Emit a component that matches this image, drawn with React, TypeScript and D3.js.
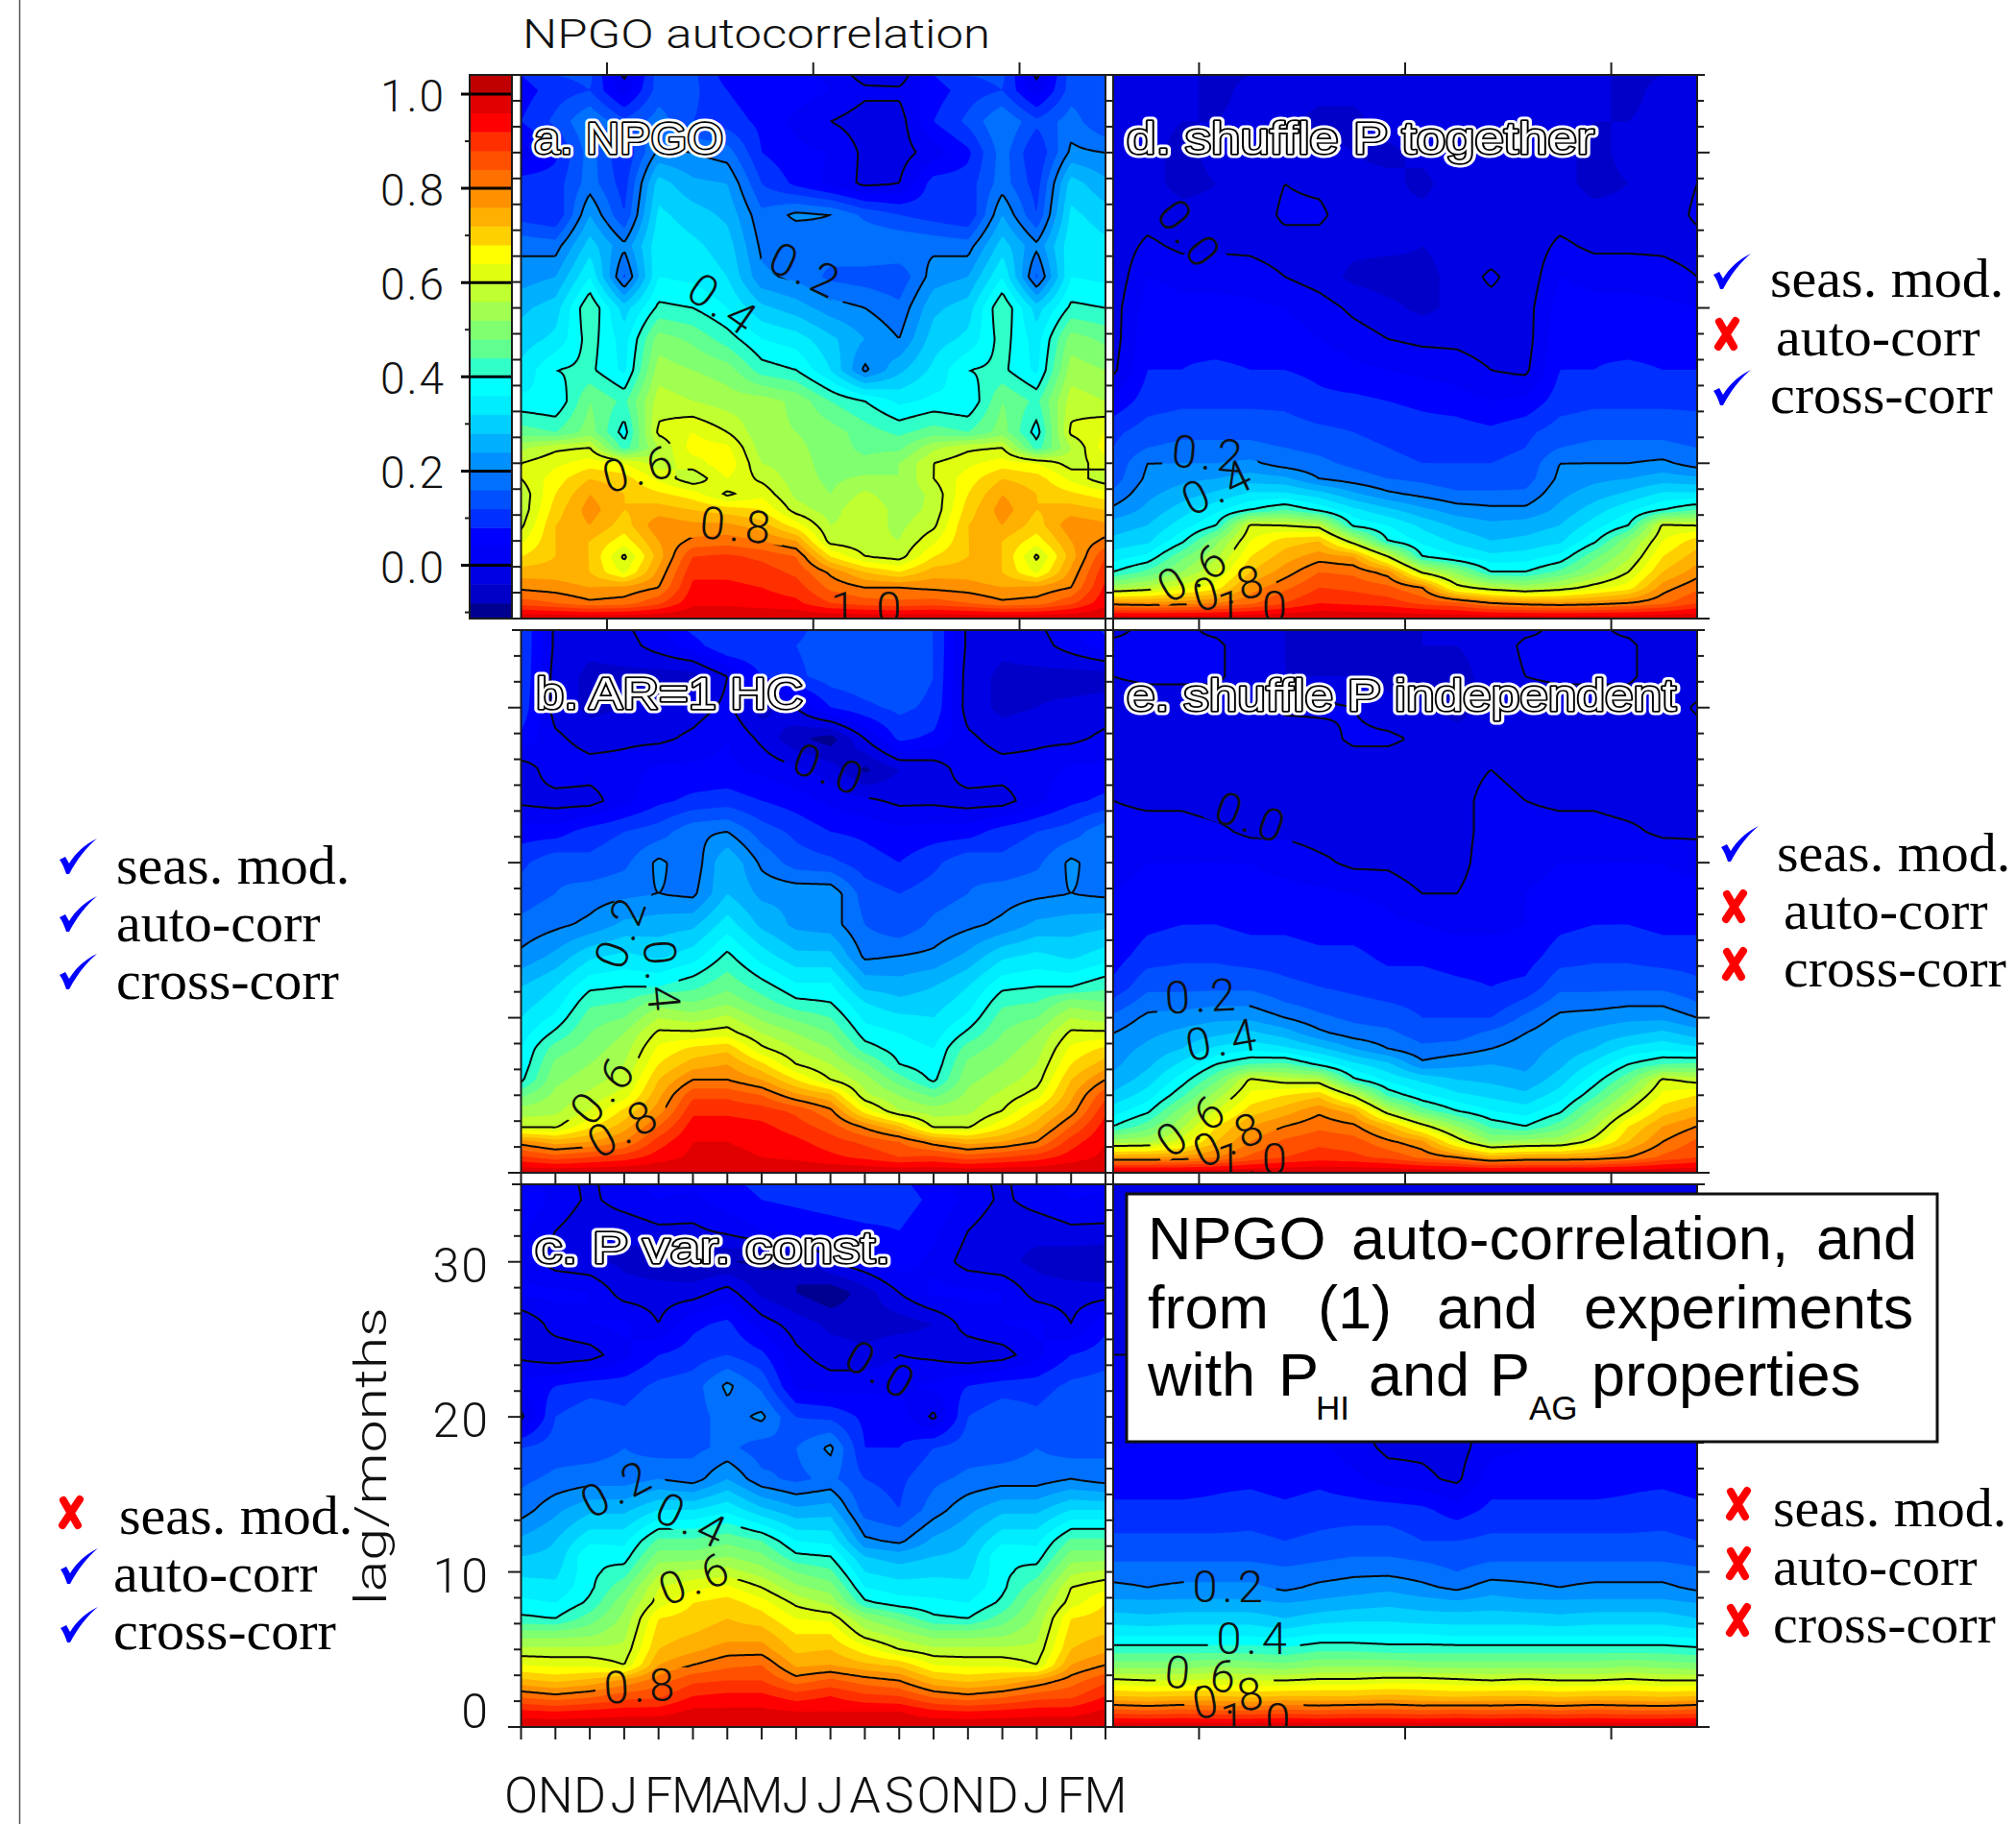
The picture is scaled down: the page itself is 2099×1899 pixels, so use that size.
import { useMemo } from "react";
import * as d3 from "d3";

// lags (rows) and months (columns, the 12-month cycle wraps across the 18 ticks)
const LAGS = [0, 1, 2, 3, 4, 5, 6, 7, 8, 9, 10, 11, 12, 14, 16, 18, 20, 22, 24, 26, 28, 30, 32, 34, 35];
const MONTHS = ["O", "N", "D", "J", "F", "M", "A", "M", "J", "J", "A", "S", "O", "N", "D", "J", "F", "M"];
const LAG_TICKS = [0, 10, 20, 30];
const BAR_TICKS = [0, 0.2, 0.4, 0.6, 0.8, 1];
const BAR_MINOR = [-0.1, 0.1, 0.3, 0.5, 0.7, 0.9];
const LINE_LEVELS = [0, 20, 40, 60, 80];

// correlation x 100, one row per lag, columns O N D J F M A M J J A S
const gridA = [
  [100, 100, 100, 100, 100, 100, 100, 100, 100, 100, 100, 100],
  [86, 84, 81, 82, 87, 95, 95, 94, 93, 88, 86, 85],
  [79, 78, 76, 77, 80, 93, 93, 92, 90, 83, 80, 80],
  [74, 74, 72, 63, 77, 91, 91, 90, 87, 79, 72, 68],
  [68, 72, 72, 59, 74, 88, 89, 87, 84, 68, 60, 58],
  [63, 72, 72, 66, 76, 81, 82, 80, 76, 58, 57, 56],
  [59, 72, 76, 70, 79, 77, 77, 74, 66, 56, 58, 55],
  [57, 70, 78, 72, 74, 72, 70, 68, 58, 54, 60, 54],
  [57, 68, 76, 72, 69, 66, 59, 63, 55, 52, 57, 53],
  [60, 66, 72, 70, 63, 57, 64, 59, 54, 51, 53, 52],
  [60, 63, 66, 64, 58, 62, 67, 56, 54, 50, 49, 52],
  [55, 59, 60, 42, 56, 66, 65, 54, 53, 50, 47, 47],
  [46, 44, 50, 38, 61, 64, 60, 53, 52, 50, 46, 43],
  [37, 36, 48, 43, 58, 56, 54, 54, 51, 44, 40, 35],
  [33, 40, 41, 35, 54, 52, 50, 42, 40, 32, 19, 27],
  [30, 33, 42, 34, 50, 47, 42, 36, 34, 29, 24, 20],
  [27, 30, 44, 30, 41, 40, 36, 29, 26, 22, 20, 17],
  [22, 24, 36, 15, 36, 35, 32, 21, 19, 15, 14, 13],
  [19, 18, 30, 21, 35, 33, 30, 19, 16, 18, 20, 20],
  [10, 8, 24, 12, 33, 30, 27, 17, 21, 20, 15, 12],
  [10, 10, 18, 10, 30, 25, 24, 12, 7, 3, -1, 0],
  [2, 7, 18, 8, 21, 20, 18, 8, 5, 4, -1, -2],
  [8, 13, 20, 13, 18, 12, 10, 7, 3, 0, -2, -2],
  [6, 10, 12, 2, 14, 13, 8, 5, 6, 4, 1, 1],
  [8, 12, 13, -1, 14, 13, 6, 4, 6, 3, -2, -3],
];
const gridB = [
  [100, 100, 100, 100, 100, 100, 100, 100, 100, 100, 100, 100],
  [89, 86, 88, 90, 94, 97, 97, 96, 95, 93, 91, 88],
  [78, 74, 76, 80, 90, 96, 96, 95, 93, 90, 87, 84],
  [59, 59, 67, 74, 84, 94, 94, 93, 90, 86, 79, 72],
  [54, 55, 60, 69, 78, 91, 91, 90, 87, 81, 66, 56],
  [47, 53, 57, 62, 75, 87, 87, 84, 77, 73, 57, 52],
  [39, 51, 54, 58, 72, 80, 80, 76, 68, 60, 54, 46],
  [37, 49, 52, 56, 68, 74, 76, 69, 60, 56, 49, 40],
  [36, 46, 50, 54, 65, 69, 71, 61, 56, 52, 42, 38],
  [34, 41, 48, 52, 61, 61, 62, 56, 52, 48, 38, 36],
  [32, 37, 46, 48, 56, 54, 57, 51, 47, 44, 35, 33],
  [30, 34, 43, 44, 50, 48, 51, 46, 41, 40, 32, 29],
  [28, 32, 39, 40, 40, 43, 47, 42, 37, 37, 27, 26],
  [21, 25, 31, 33, 31, 34, 41, 34, 29, 29, 19, 20],
  [17, 19, 21, 25, 26, 27, 34, 27, 23, 22, 16, 13],
  [14, 16, 18, 19, 20, 19, 28, 23, 23, 23, 14, 12],
  [11, 15, 13, 15, 21, 17, 28, 19, 14, 13, 10, 8],
  [6, 6, 10, 12, 14, 19, 20, 14, 11, 8, 7, 5],
  [-1, -2, -2, 3, 7, 9, 10, 8, 6, 3, 1, -1],
  [-3, 3, 2, 2, 5, 5, 5, 3, 1, -2, -9, -4],
  [7, 1, -2, -1, -1, 1, 4, -1, -7, -10, 0, 9],
  [11, -2, -5, -4, -3, -2, 1, -6, 0, 8, 11, 13],
  [12, -2, -5, -5, -6, -6, 0, 8, 11, 14, 15, 15],
  [12, -1, -3, -2, 2, 6, 12, 12, 12, 14, 15, 13],
  [12, -1, -2, -1, 3, 9, 12, 11, 11, 14, 14, 13],
];
const gridC = [
  [100, 100, 100, 100, 100, 100, 100, 100, 100, 100, 100, 100],
  [93, 92, 93, 94, 94, 97, 97, 97, 96, 96, 96, 96],
  [83, 81, 83, 86, 87, 92, 93, 93, 90, 92, 89, 88],
  [73, 71, 73, 77, 82, 87, 88, 88, 82, 85, 82, 80],
  [64, 63, 63, 60, 76, 80, 83, 84, 75, 76, 73, 71],
  [57, 57, 57, 57, 72, 75, 78, 78, 71, 72, 66, 60],
  [50, 50, 51, 55, 70, 72, 74, 74, 68, 68, 58, 54],
  [41, 40, 46, 53, 68, 70, 72, 70, 64, 63, 52, 47],
  [37, 36, 41, 51, 62, 68, 70, 66, 59, 55, 41, 38],
  [34, 33, 39, 47, 60, 63, 65, 60, 53, 50, 36, 34],
  [31, 31, 39, 42, 55, 57, 58, 54, 48, 45, 32, 30],
  [28, 29, 40, 38, 50, 50, 52, 49, 41, 40, 28, 26],
  [25, 28, 35, 35, 45, 45, 47, 44, 36, 35, 21, 19],
  [18, 23, 27, 27, 32, 32, 35, 29, 25, 26, 14, 12],
  [15, 17, 18, 18, 20, 18, 24, 17, 15, 17, 12, 11],
  [12, 14, 14, 16, 14, 15, 17, 14, 16, 21, 8, 8],
  [-1, 12, 15, 13, 16, 14, 18, 21, 12, 11, 7, 6],
  [5, 8, 10, 10, 13, 14, 21, 15, 3, 2, 3, 3],
  [-1, -3, -2, 3, 8, 10, 12, 9, 1, -2, -3, 0],
  [-4, 2, 4, 5, 0, 7, 9, 2, -2, -5, -6, -6],
  [5, 5, 4, -2, -2, -2, 2, -5, -8, -11, -6, 0],
  [3, -2, -3, -5, -7, -8, -8, -9, -8, 0, 3, 6],
  [5, 0, -3, -3, -1, -1, 1, 4, 5, 6, 7, 8],
  [7, 3, -1, 2, 4, 3, 6, 8, 9, 10, 11, 10],
  [6, 2, -1, 3, 5, 5, 7, 9, 9, 11, 10, 9],
];
const gridD = [
  [100, 100, 100, 100, 100, 100, 100, 100, 100, 100, 100, 100],
  [78, 77, 78, 80, 83, 88, 92, 91, 90, 87, 85, 80],
  [54, 57, 62, 66, 78, 83, 88, 87, 85, 80, 62, 57],
  [40, 45, 52, 60, 72, 78, 84, 83, 78, 59, 51, 40],
  [34, 37, 47, 55, 68, 74, 78, 76, 60, 40, 36, 33],
  [29, 31, 39, 51, 64, 70, 72, 57, 40, 35, 31, 28],
  [26, 28, 34, 40, 61, 60, 58, 39, 36, 31, 27, 25],
  [21, 25, 30, 35, 40, 44, 39, 33, 29, 25, 22, 21],
  [17, 23, 26, 29, 33, 33, 30, 25, 21, 19, 17, 17],
  [14, 21, 23, 24, 26, 25, 20, 18, 16, 15, 13, 13],
  [13, 20, 20, 20, 21, 18, 17, 15, 13, 12, 12, 12],
  [12, 16, 17, 17, 17, 16, 15, 13, 12, 11, 11, 11],
  [11, 14, 15, 15, 15, 14, 13, 12, 11, 10, 10, 9],
  [5, 10, 11, 11, 11, 11, 9, 9, 8, 7, 6, 4],
  [-1, 8, 8, 9, 8, 8, 7, 5, 4, 3, 2, 0],
  [-2, 7, 7, 6, 6, 6, 4, 2, 0, -1, -1, -2],
  [-2, 6, 5, 5, 5, 4, 2, -1, -3, -5, -3, -2],
  [-3, 4, 3, 3, 2, 0, -2, -5, -6, -5, -3, 1],
  [-3, 1, -1, -1, -1, -2, -2, -3, -3, -4, -3, -3],
  [-3, -2, -3, -3, -3, 1, 1, -3, -3, -3, -3, -3],
  [-4, -3, -5, -4, -3, 0, -1, -3, -3, -5, -2, -3],
  [-3, -3, -5, -3, -3, -3, -3, -4, -5, -3, -2, -3],
  [-3, -3, -4, -4, -3, -3, -5, -5, -2, -1, -3, -3],
  [-3, -3, -3, -5, -3, -3, -3, -3, -3, -3, -3, -4],
  [-3, -3, -3, -5, -4, -3, -3, -3, -3, -3, -3, -4],
];
const gridE = [
  [100, 100, 100, 100, 100, 100, 100, 100, 100, 100, 100, 100],
  [76, 76, 77, 80, 85, 88, 90, 89, 87, 83, 80, 74],
  [54, 55, 62, 72, 80, 85, 87, 86, 81, 77, 63, 52],
  [40, 46, 55, 68, 76, 80, 83, 81, 73, 62, 52, 43],
  [34, 39, 50, 60, 70, 74, 79, 74, 57, 46, 40, 36],
  [29, 34, 43, 54, 65, 68, 71, 59, 43, 37, 33, 31],
  [25, 30, 38, 47, 61, 58, 57, 41, 35, 31, 28, 27],
  [23, 27, 33, 40, 44, 45, 39, 33, 29, 21, 23, 24],
  [22, 25, 28, 33, 35, 33, 29, 24, 20, 17, 18, 20],
  [20, 23, 25, 27, 29, 26, 21, 18, 17, 14, 14, 17],
  [17, 21, 22, 23, 23, 20, 17, 15, 14, 12, 12, 12],
  [13, 18, 18, 19, 19, 16, 14, 13, 12, 11, 10, 9],
  [9, 15, 15, 15, 15, 13, 12, 11, 10, 10, 9, 8],
  [6, 10, 11, 11, 10, 10, 9, 9, 7, 7, 6, 6],
  [4, 7, 8, 8, 7, 7, 6, 6, 5, 4, 3, 3],
  [4, 5, 5, 6, 5, 5, 5, 4, 3, 0, 0, 3],
  [3, 4, 4, 4, 4, 3, 1, -1, -1, -3, -2, 3],
  [2, 2, 2, 1, -1, -1, -2, -2, -2, -2, -2, 2],
  [0, -1, -1, -2, -2, -2, -2, -3, -2, -2, -2, 2],
  [-2, -2, -3, -3, -3, -3, -3, -3, -3, -3, -2, 0],
  [-3, -3, -3, -3, -3, -3, -2, 1, 1, -1, -3, -3],
  [-3, -3, -3, -3, -4, 1, 1, 0, -3, -4, -5, -3],
  [0, 1, 1, 1, -3, -4, -4, -4, -5, -5, -5, -3],
  [1, 1, 1, 1, -3, -4, -5, -5, -5, -4, -4, -3],
  [-1, 1, 1, -1, -3, -4, -5, -5, -5, -4, -4, -3],
];
const gridF = [
  [100, 100, 100, 100, 100, 100, 100, 100, 100, 100, 100, 100],
  [86, 85, 86, 85, 85, 86, 85, 86, 86, 85, 86, 85],
  [72, 71, 72, 72, 71, 72, 72, 72, 73, 72, 71, 72],
  [61, 60, 60, 61, 60, 60, 61, 61, 62, 62, 61, 60],
  [50, 50, 50, 51, 50, 49, 51, 51, 51, 50, 50, 50],
  [42, 42, 42, 42, 42, 41, 43, 43, 42, 42, 42, 42],
  [35, 35, 35, 35, 35, 34, 36, 36, 36, 36, 35, 35],
  [30, 29, 30, 30, 30, 28, 30, 31, 31, 30, 30, 30],
  [25, 25, 25, 25, 25, 24, 25, 26, 27, 26, 25, 26],
  [21, 20, 21, 21, 21, 19, 21, 22, 23, 21, 19, 22],
  [18, 18, 18, 18, 18, 17, 18, 19, 19, 18, 16, 18],
  [15, 15, 15, 15, 15, 14, 15, 16, 16, 15, 14, 15],
  [13, 13, 13, 13, 13, 12, 13, 14, 14, 12, 12, 13],
  [9, 9, 9, 9, 10, 9, 10, 10, 10, 9, 6, 9],
  [6, 6, 6, 7, 7, 6, 7, 5, 2, 1, -1, 6],
  [4, 4, 5, 5, 5, 5, 5, 2, -1, -1, -2, 3],
  [2, 3, 3, 3, 3, 3, 3, 0, -2, -2, -2, 1],
  [1, 1, 2, 2, 2, 2, 2, 1, 1, 1, 1, 1],
  [0, 0, 1, 1, 1, 1, 0, 0, 0, 0, -1, 0],
  [-1, -1, 0, 0, 0, 0, -1, -1, -1, -1, -1, -1],
  [-2, -2, -1, -1, -2, -2, -2, -2, -2, -2, -2, -2],
  [-2, -2, -2, -2, -2, -2, -2, -2, -2, -2, -2, -2],
  [-2, -2, -2, -2, -2, -2, -2, -2, -2, -2, -2, -2],
  [-2, -2, -2, -2, -2, -2, -2, -2, -2, -2, -2, -2],
  [-2, -2, -2, -2, -2, -2, -2, -2, -2, -2, -2, -2],
];

// band colours: every 0.04 starting at -0.12
const BAND_START = d3.range(-12, 104, 4);
const BAND_COLORS = [
  "#000090", "#0000c8", "#0000e4", "#0000f4", "#0000ff", "#0030ff", "#0050ff", "#0070ff",
  "#0090ff", "#00b0ff", "#00d0ff", "#00ecff", "#00ffff", "#30ffc8", "#60ff90", "#80ff70",
  "#a0ff50", "#c0ff30", "#e0ff10", "#ffff00", "#ffd000", "#ffb000", "#ff9000", "#ff7000",
  "#ff5000", "#ff3000", "#ff0000", "#e00000", "#c00000",
];

const PANELS = [
  {
    id: "a", grid: gridA, x: [542.5, 1151], y: [78, 644],
    tag: "a. NPGO", tagX: 556, tagY: 160, tagW: 197,
    labels: [
      { t: "0.2", c: 8.3, l: 22.4, r: 25 },
      { t: "0.4", c: 5.9, l: 20.2, r: 35 },
      { t: "0.6", c: 3.45, l: 9.65, r: -15 },
      { t: "0.8", c: 6.3, l: 6, r: 5 },
      { t: "1.0", c: 10.1, l: 0.7, r: 0 },
    ],
  },
  {
    id: "b", grid: gridB, x: [542.5, 1151], y: [656, 1221],
    tag: "b. AR=1 HC", tagX: 558, tagY: 738, tagW: 278,
    labels: [
      { t: "0.0", c: 9, l: 26, r: 21 },
      { t: "0.2", c: 2.9, l: 15.6, r: -70 },
      { t: "0.4", c: 4.1, l: 12.6, r: 85 },
      { t: "0.6", c: 2.4, l: 5.4, r: -50 },
      { t: "0.8", c: 3, l: 2.9, r: -29 },
    ],
  },
  {
    id: "c", grid: gridC, x: [542.5, 1151], y: [1233, 1798],
    tag: "c. P var. const.", tagX: 557, tagY: 1315, tagW: 370,
    labels: [
      { t: "0.0", c: 10.5, l: 23, r: 30 },
      { t: "0.2", c: 2.8, l: 15.4, r: -28 },
      { t: "0.4", c: 5, l: 13.3, r: 25 },
      { t: "0.6", c: 5.08, l: 9.6, r: -21 },
      { t: "0.8", c: 3.5, l: 2.65, r: -3 },
    ],
  },
  {
    id: "d", grid: gridD, x: [1159, 1767], y: [78, 644],
    tag: "d. shuffle P together", tagX: 1173, tagY: 160, tagW: 487,
    labels: [
      { t: "0.0", c: 2.25, l: 24.7, r: 52 },
      { t: "0.2", c: 2.8, l: 10.6, r: 5 },
      { t: "0.4", c: 3.06, l: 8.5, r: -25 },
      { t: "0.6", c: 2.35, l: 3, r: -30 },
      { t: "0.8", c: 3.4, l: 2, r: -15 },
      { t: "1.0", c: 4.1, l: 0.75, r: 0 },
    ],
  },
  {
    id: "e", grid: gridE, x: [1159, 1767], y: [656, 1221],
    tag: "e. shuffle P independent", tagX: 1173, tagY: 740, tagW: 572,
    labels: [
      { t: "0.0", c: 4.05, l: 22.9, r: 20 },
      { t: "0.2", c: 2.6, l: 11.4, r: -3 },
      { t: "0.4", c: 3.2, l: 8.6, r: -10 },
      { t: "0.6", c: 2.3, l: 3.1, r: -35 },
      { t: "0.8", c: 3.4, l: 2.2, r: -25 },
      { t: "1.0", c: 4.1, l: 0.9, r: 0 },
    ],
  },
  {
    id: "f", grid: gridF, x: [1159, 1767], y: [1233, 1798],
    tag: "", tagX: 0, tagY: 0, tagW: 0,
    labels: [
      { t: "0.2", c: 3.4, l: 9.1, r: 0 },
      { t: "0.4", c: 4.1, l: 5.7, r: 0 },
      { t: "0.6", c: 2.6, l: 3.4, r: 5 },
      { t: "0.8", c: 3.4, l: 1.9, r: -10 },
      { t: "1.0", c: 4.2, l: 0.5, r: 0 },
    ],
  },
];

const LEGEND_TEXT = ["seas. mod.", "auto-corr", "cross-corr"];
const LEGENDS = [
  { flags: [1, 0, 1], marks: [[1784, 264], [1798, 348], [1784, 385]], text: [[1843, 309], [1849, 370], [1843, 430]] },
  { flags: [1, 1, 1], marks: [[62, 873], [62, 933], [62, 993]], text: [[121, 920], [121, 980], [121, 1040]] },
  { flags: [1, 0, 0], marks: [[1792, 860], [1806, 944], [1806, 1004]], text: [[1850, 907], [1857, 967], [1857, 1027]] },
  { flags: [0, 1, 1], marks: [[74, 1575], [63, 1612], [63, 1673]], text: [[124, 1597], [118, 1657], [118, 1717]] },
  { flags: [0, 0, 0], marks: [[1810, 1566], [1810, 1628], [1810, 1687]], text: [[1846, 1589], [1846, 1650], [1846, 1710]] },
];

const GW = 305;
const GH = 284;
const LINE = "#1c1c1c";
const MAJOR_COLS = [2.5, 8.5, 14.5];
const LAG_MINOR = d3.range(0, 36, 10 / 6);
const SANS = "'Liberation Sans', Arial, sans-serif";
const THIN = "Roboto, 'Liberation Sans', sans-serif";
const SERIF = "'Liberation Serif', serif";

function sampleGrid(grid: number[][]) {
  const out = new Array(GW * GH);
  for (let j = 0; j < GH; j++) {
    const lag = 35 * (1 - j / (GH - 1));
    const r1 = Math.min(Math.max(d3.bisectRight(LAGS, lag), 1), LAGS.length - 1);
    const r0 = r1 - 1;
    const tr = (lag - LAGS[r0]) / (LAGS[r1] - LAGS[r0]);
    for (let i = 0; i < GW; i++) {
      const col = (i / (GW - 1)) * 17;
      const c0 = Math.min(Math.floor(col), 16);
      const tc = col - c0;
      const a = grid[r0][c0 % 12] * (1 - tc) + grid[r0][(c0 + 1) % 12] * tc;
      const b = grid[r1][c0 % 12] * (1 - tc) + grid[r1][(c0 + 1) % 12] * tc;
      out[j * GW + i] = a * (1 - tr) + b * tr;
    }
  }
  return out;
}

function Panel({ p }: { p: (typeof PANELS)[number] }) {
  const xs = d3.scaleLinear().domain([0, 17]).range(p.x);
  const ys = d3.scaleLinear().domain([0, 35]).range([p.y[1], p.y[0]]);

  const { bands, lines } = useMemo(() => {
    const values = sampleGrid(p.grid);
    const project = d3.geoTransform({
      point(x: number, y: number) {
        this.stream.point(xs(((x - 0.5) / (GW - 1)) * 17), ys((1 - (y - 0.5) / (GH - 1)) * 35));
      },
    });
    const path = d3.geoPath(project);
    const gen = d3.contours().size([GW, GH]);
    return {
      bands: BAND_START.map((t) => path(gen.contour(values, t)) || ""),
      lines: LINE_LEVELS.map((t) => path(gen.contour(values, t)) || ""),
    };
  }, [p]);

  const w = p.x[1] - p.x[0];
  const h = p.y[1] - p.y[0];
  return (
    <g>
      <clipPath id={`clip-${p.id}`}>
        <rect x={p.x[0]} y={p.y[0]} width={w} height={h} />
      </clipPath>
      <mask id={`gap-${p.id}`} maskUnits="userSpaceOnUse" x={p.x[0]} y={p.y[0]} width={w} height={h}>
        <rect x={p.x[0]} y={p.y[0]} width={w} height={h} fill="#fff" />
        {p.labels.map((l) => (
          <rect
            key={l.t}
            x={-48}
            y={-17}
            width={96}
            height={34}
            fill="#000"
            transform={`translate(${xs(l.c)},${ys(l.l)}) rotate(${l.r})`}
          />
        ))}
      </mask>
      <g clipPath={`url(#clip-${p.id})`}>
        <rect x={p.x[0]} y={p.y[0]} width={w} height={h} fill={BAND_COLORS[0]} />
        {bands.map((d, i) => (
          <path key={i} d={d} fill={BAND_COLORS[i]} />
        ))}
        <g mask={`url(#gap-${p.id})`}>
          {lines.map((d, i) => (
            <path key={i} d={d} fill="none" stroke="#0a0a0a" strokeWidth={2} />
          ))}
        </g>
        {p.labels.map((l) => (
          <text
            key={l.t}
            fontFamily={THIN}
            fontWeight={300}
            fontSize={47}
            letterSpacing={5}
            textAnchor="middle"
            dominantBaseline="central"
            fill="#111"
            transform={`translate(${xs(l.c)},${ys(l.l)}) rotate(${l.r})`}
          >
            {l.t}
          </text>
        ))}
      </g>
      <rect x={p.x[0]} y={p.y[0]} width={w} height={h} fill="none" stroke={LINE} strokeWidth={2} />
      {p.tag && (
        <g fontFamily={SANS} fontSize={46}>
          <text x={p.tagX} y={p.tagY} textLength={p.tagW} lengthAdjust="spacingAndGlyphs" fill="#fff" stroke="#fff" strokeWidth={9} strokeLinejoin="round">
            {p.tag}
          </text>
          <text x={p.tagX} y={p.tagY} textLength={p.tagW} lengthAdjust="spacingAndGlyphs" fill="#000" stroke="#000" strokeWidth={3.4} strokeLinejoin="round">
            {p.tag}
          </text>
          <text x={p.tagX} y={p.tagY} textLength={p.tagW} lengthAdjust="spacingAndGlyphs" fill="#fff">
            {p.tag}
          </text>
        </g>
      )}
    </g>
  );
}

function Check({ x, y }: { x: number; y: number }) {
  return (
    <path
      transform={`translate(${x},${y})`}
      d="M0,22 L6,19 L10,26 C16,16 26,6 39,0 C28,9 18,22 10,37 L7,37 C5,31 3,26 0,22 Z"
      fill="#0000ff"
    />
  );
}

function Cross({ x, y }: { x: number; y: number }) {
  return (
    <path
      transform={`translate(${x},${y})`}
      d="M-8,-13 L7,13 M9,-14 L-9,13"
      fill="none"
      stroke="#ff0000"
      strokeWidth={8}
      strokeLinecap="round"
    />
  );
}

export default function App() {
  const xLeft = d3.scaleLinear().domain([0, 17]).range([542.5, 1151]);
  const xRight = d3.scaleLinear().domain([0, 17]).range([1159, 1767]);
  const barY = d3.scaleLinear().domain([0, 1]).range([588.5, 98]);
  const lagC = d3.scaleLinear().domain([0, 35]).range([1798, 1233]);
  const rows = [
    [78, 644],
    [656, 1221],
    [1233, 1798],
  ];

  return (
    <svg width={2099} height={1899} style={{ position: "absolute", left: 0, top: 0, background: "#fff" }}>
      <line x1={20.5} y1={0} x2={20.5} y2={1899} stroke="#555" strokeWidth={1.5} />

      {/* colour bar */}
      <clipPath id="bar-clip">
        <rect x={489} y={78} width={44} height={566} />
      </clipPath>
      <g clipPath="url(#bar-clip)">
        {BAND_START.map((t, i) => (
          <rect
            key={t}
            x={489}
            width={44}
            y={barY((t + 4) / 100)}
            height={barY(t / 100) - barY((t + 4) / 100) + 0.5}
            fill={BAND_COLORS[i]}
          />
        ))}
        <rect x={489} y={barY(1.04) - 30} width={44} height={30} fill="#c00000" />
        <rect x={489} y={barY(-0.12)} width={44} height={30} fill="#000090" />
      </g>
      <rect x={489} y={78} width={44} height={566} fill="none" stroke={LINE} strokeWidth={2} />
      {BAR_TICKS.map((v) => (
        <g key={v}>
          <line x1={480} x2={533} y1={barY(v)} y2={barY(v)} stroke="#000" strokeWidth={3} />
          <text x={464} y={barY(v) + 18} textAnchor="end" fontFamily={THIN} fontWeight={300} fontSize={46} letterSpacing={2} fill="#111">
            {d3.format(".1f")(v)}
          </text>
        </g>
      ))}
      {BAR_MINOR.map((v) => (
        <line key={v} x1={484} x2={489} y1={barY(v)} y2={barY(v)} stroke={LINE} strokeWidth={2} />
      ))}

      {PANELS.map((p) => (
        <Panel key={p.id} p={p} />
      ))}

      {/* horizontal frame lines running past the panels */}
      {rows.flat().map((y) => (
        <line key={y} x1={533} x2={1775} y1={y} y2={y} stroke={LINE} strokeWidth={2} />
      ))}

      {/* lag ticks in the white strips and on the outer sides */}
      {rows.map((r, ri) => {
        const ly = d3.scaleLinear().domain([0, 35]).range([r[1], r[0]]);
        return (
          <g key={ri} stroke={LINE} strokeWidth={2}>
            {LAG_MINOR.map((m, i) => (
              <g key={i}>
                <line x1={1151} x2={1159} y1={ly(m)} y2={ly(m)} />
                <line x1={1767} x2={i % 6 === 0 ? 1780 : 1774} y1={ly(m)} y2={ly(m)} />
                {ri === 0 ? (
                  <line x1={533} x2={542.5} y1={ly(m)} y2={ly(m)} />
                ) : (
                  <line x1={i % 6 === 0 ? 529 : 535} x2={542.5} y1={ly(m)} y2={ly(m)} />
                )}
              </g>
            ))}
          </g>
        );
      })}
      <line x1={533} x2={533} y1={78} y2={644} stroke={LINE} strokeWidth={2} />
      <line x1={1151} x2={1151} y1={78} y2={1798} stroke={LINE} strokeWidth={2} />
      <line x1={1159} x2={1159} y1={78} y2={1798} stroke={LINE} strokeWidth={2} />

      {/* month ticks */}
      <g stroke={LINE} strokeWidth={2}>
        {MAJOR_COLS.map((c) => (
          <g key={c}>
            <line x1={xLeft(c)} x2={xLeft(c)} y1={65} y2={78} />
            <line x1={xRight(c)} x2={xRight(c)} y1={65} y2={78} />
            <line x1={xLeft(c)} x2={xLeft(c)} y1={644} y2={656} />
            <line x1={xRight(c)} x2={xRight(c)} y1={644} y2={656} />
            <line x1={xRight(c)} x2={xRight(c)} y1={1221} y2={1233} />
            <line x1={xRight(c)} x2={xRight(c)} y1={1798} y2={1811} />
          </g>
        ))}
        {MONTHS.map((m, i) => (
          <g key={i}>
            <line x1={xLeft(i)} x2={xLeft(i)} y1={1221} y2={1233} />
            <line x1={xLeft(i)} x2={xLeft(i)} y1={1798} y2={1811} />
          </g>
        ))}
      </g>

      {MONTHS.map((m, i) => (
        <text key={i} x={xLeft(i)} y={1887} textAnchor="middle" fontFamily={THIN} fontWeight={300} fontSize={52} fill="#111">
          {m}
        </text>
      ))}
      {LAG_TICKS.map((v) => (
        <text key={v} x={510} y={lagC(v) + (v === 0 ? 1 : 21)} textAnchor="end" fontFamily={THIN} fontWeight={300} fontSize={50} letterSpacing={2} fill="#111">
          {v}
        </text>
      ))}
      <text
        transform="translate(402,1671) rotate(-90)"
        fontFamily={THIN}
        fontWeight={300}
        fontSize={47}
        textLength={310}
        lengthAdjust="spacingAndGlyphs"
        fill="#111"
      >
        lag/months
      </text>
      <text x={544} y={50} fontFamily={THIN} fontWeight={300} fontSize={42} textLength={487} lengthAdjust="spacingAndGlyphs" fill="#111">
        NPGO autocorrelation
      </text>

      {/* experiment legends */}
      {LEGENDS.map((g, gi) => (
        <g key={gi}>
          {g.flags.map((on, i) =>
            on ? <Check key={i} x={g.marks[i][0]} y={g.marks[i][1]} /> : <Cross key={i} x={g.marks[i][0]} y={g.marks[i][1]} />
          )}
          {LEGEND_TEXT.map((t, i) => (
            <text key={t} x={g.text[i][0]} y={g.text[i][1]} fontFamily={SERIF} fontSize={58} fill="#000">
              {t}
            </text>
          ))}
        </g>
      ))}

      {/* caption box over panel f */}
      <rect x={1173} y={1243} width={844} height={258} fill="#fff" stroke="#111" strokeWidth={3} />
      <g fontFamily={SANS} fontSize={63} fill="#000">
        <text x={1195} y={1311}>NPGO</text>
        <text x={1407} y={1311}>auto-correlation,</text>
        <text x={1891} y={1311}>and</text>
        <text x={1195} y={1383}>from</text>
        <text x={1372} y={1383}>(1)</text>
        <text x={1496} y={1383}>and</text>
        <text x={1649} y={1383}>experiments</text>
        <text x={1195} y={1453}>with</text>
        <text x={1331} y={1453}>P</text>
        <text x={1370} y={1478} fontSize={35}>HI</text>
        <text x={1425} y={1453}>and</text>
        <text x={1551} y={1453}>P</text>
        <text x={1592} y={1478} fontSize={35}>AG</text>
        <text x={1657} y={1453}>properties</text>
      </g>
    </svg>
  );
}
